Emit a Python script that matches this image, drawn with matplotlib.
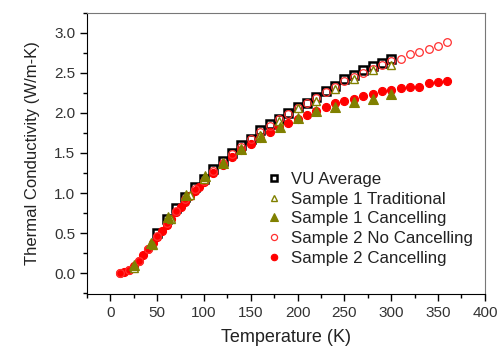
import numpy as np
import matplotlib
matplotlib.use("Agg")
import matplotlib.pyplot as plt
from matplotlib.ticker import MultipleLocator

plt.rcParams['font.family'] = ['Liberation Sans', 'DejaVu Sans']

# ============== data ==============
vu_T = [50, 60, 70, 80, 90, 100, 110, 120, 130, 140, 150, 160, 170, 180, 190,
        200, 210, 220, 230, 240, 250, 260, 270, 280, 290, 300]
vu_k = [0.50, 0.68, 0.81, 0.95, 1.08, 1.18, 1.30, 1.40, 1.50, 1.60, 1.68, 1.79,
        1.86, 1.93, 2.00, 2.07, 2.13, 2.20, 2.27, 2.34, 2.42, 2.47, 2.53, 2.58,
        2.62, 2.67]

s1t_T = [25, 45, 65, 85, 100, 120, 140, 160, 180, 200, 220, 240, 260, 280, 300]
s1t_k = [0.06, 0.35, 0.68, 0.97, 1.18, 1.38, 1.55, 1.72, 1.90, 2.06, 2.15, 2.30,
         2.42, 2.54, 2.60]

s1c_T = [25, 43, 62, 81, 101, 120, 140, 161, 181, 200, 220, 240, 260, 280, 300]
s1c_k = [0.10, 0.38, 0.70, 0.97, 1.21, 1.38, 1.55, 1.70, 1.83, 1.94, 2.02, 2.07,
         2.14, 2.18, 2.24]

s2n_T = [10, 20, 30, 40, 50, 60, 70, 80, 90, 100, 110, 120, 130, 140, 150, 160,
         170, 180, 190, 200, 210, 220, 230, 240, 250, 260, 270, 280, 290, 300,
         310, 320, 330, 340, 350, 360]
s2n_k = [0.00, 0.04, 0.15, 0.30, 0.46, 0.62, 0.78, 0.92, 1.05, 1.15, 1.27, 1.38,
         1.49, 1.58, 1.67, 1.76, 1.84, 1.92, 1.99, 2.06, 2.12, 2.19, 2.26, 2.33,
         2.40, 2.45, 2.50, 2.55, 2.60, 2.65, 2.67, 2.73, 2.76, 2.80, 2.84, 2.89]

s2c_T = [10, 15, 20, 25, 30, 35, 40, 45, 50, 55, 60, 65, 70, 75, 80, 85, 90, 95,
         100, 110, 120, 130, 140, 150, 160, 170, 180, 190, 200, 210, 220, 230,
         240, 250, 260, 270, 280, 290, 300, 310, 320, 330, 340, 350, 360]
s2c_k = [0.00, 0.01, 0.04, 0.09, 0.15, 0.22, 0.30, 0.37, 0.45, 0.53, 0.60, 0.68,
         0.76, 0.83, 0.89, 0.96, 1.02, 1.08, 1.14, 1.25, 1.35, 1.45, 1.54, 1.61,
         1.69, 1.76, 1.82, 1.875, 1.93, 1.97, 2.02, 2.08, 2.12, 2.145, 2.18, 2.21,
         2.24, 2.27, 2.29, 2.31, 2.325, 2.33, 2.375, 2.39, 2.395]

olive = '#808000'

fig = plt.figure(figsize=(5.03, 3.47), dpi=100)
ax = fig.add_axes([0.173, 0.153, 0.791, 0.81])

ax.plot(vu_T, vu_k, 's', ms=5.2, mfc='white', mec='black', mew=1.8,
        ls='none', label='VU Average', zorder=2)
ax.plot(s2c_T, s2c_k, 'o', ms=5.8, mfc='#ff0000', mec='#ff0000', mew=0.8,
        ls='none', label='Sample 2 Cancelling', zorder=3)
ax.plot(s2n_T, s2n_k, 'o', ms=5.5, mfc='none', mec='#ff3030', mew=0.9,
        ls='none', label='Sample 2 No Cancelling', zorder=4)
ax.plot(s1t_T, s1t_k, '^', ms=6, mfc='white', mec=olive, mew=1.0,
        ls='none', label='Sample 1 Traditional', zorder=5)
ax.plot(s1c_T, s1c_k, '^', ms=6.5, mfc=olive, mec=olive, mew=0.8,
        ls='none', label='Sample 1 Cancelling', zorder=6)

ax.set_xlim(-25, 400)
ax.set_ylim(-0.26, 3.25)
ax.xaxis.set_major_locator(MultipleLocator(50))
ax.xaxis.set_minor_locator(MultipleLocator(25))
ax.yaxis.set_major_locator(MultipleLocator(0.5))
ax.yaxis.set_minor_locator(MultipleLocator(0.25))
ax.tick_params(which='both', direction='out', top=False, right=False,
               labelsize=11, labelcolor='#333333')
ax.tick_params(which='major', length=5, width=1)
ax.tick_params(which='minor', length=3, width=1)
for s in ['top', 'right']:
    ax.spines[s].set_color('#777777')
for s in ['left', 'bottom']:
    ax.spines[s].set_color('black')

ax.set_xlabel('Temperature (K)', fontsize=13, color='#222222', labelpad=7)
ax.set_ylabel('Thermal Conductivity (W/m-K)', fontsize=12, color='#222222',
              labelpad=10)

h, l = ax.get_legend_handles_labels()
order = ['VU Average', 'Sample 1 Traditional', 'Sample 1 Cancelling',
         'Sample 2 No Cancelling', 'Sample 2 Cancelling']
hh = [h[l.index(o)] for o in order]
ax.legend(hh, order, loc='upper left', bbox_to_anchor=(0.418, 0.475),
          frameon=False, fontsize=12.2, handletextpad=0.55, labelspacing=0.27,
          handlelength=1.0, markerscale=0.8, labelcolor='#222222',
          borderpad=0.2)

fig.savefig('out.png', dpi=100)
